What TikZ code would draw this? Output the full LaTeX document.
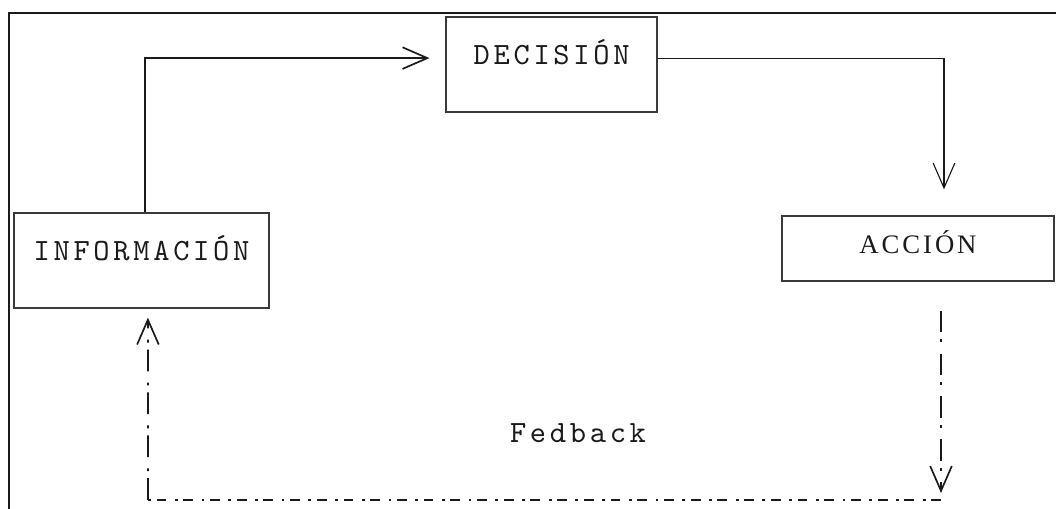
\documentclass[tikz,border=0pt]{standalone}
\usepackage{fontspec}
\setmainfont{Liberation Serif}
\newfontfamily\widserif[LetterSpace=11]{Liberation Serif}
\newfontfamily\boxmono[LetterSpace=12]{lmmono10-regular.otf}
\usetikzlibrary{arrows.meta,positioning,calc}
\definecolor{ink}{HTML}{1A1A1A}
\definecolor{boxline}{HTML}{3A3A3A}
\tikzset{
  stagebox/.style={rectangle,draw=boxline,line width=0.9pt,text=ink,inner sep=0pt,
    font=\boxmono\fontsize{22}{26}\selectfont,text height=10pt,text depth=10pt},
  flowarr/.style={-{Straight Barb[length=0.62cm,width=0.54cm]},line width=0.8pt,color=ink},
  fbline/.style={line width=1.2pt,color=ink,dash pattern=on 15.5pt off 5pt on 2pt off 8pt},
  fbhline/.style={line width=1pt,color=ink,dash pattern=on 7pt off 4pt on 2pt off 6pt},
  fblabel/.style={font=\boxmono\fontsize{22}{26}\selectfont,text=ink},
}

\begin{document}
\begin{tikzpicture}
  \useasboundingbox (0,0) rectangle (26.4,12.725);
  % page frame, only the top and left sides show
  \draw[line width=1.4pt,color=ink] (0.225,0) -- (0.225,12.4) -- (26.4,12.4);

  \node[stagebox,minimum width=5.275cm,minimum height=2.375cm] (dec) at (13.79,11.1125) {DECISIÓN};
  \node[stagebox,minimum width=6.375cm,minimum height=2.375cm] (info) at (3.5375,6.2125) {INFORMACIÓN};
  \node[stagebox,minimum width=6.8cm,minimum height=1.625cm,
    font=\widserif\fontsize{19}{23}\selectfont,text height=12pt,text depth=5pt] (acc) at (22.95,6.5125) {ACCIÓN};
  \node[fblabel] (fb) at (14.45,1.9) {Fedback};

  \draw[flowarr,line width=1.2pt,shorten >=0.4cm] ([xshift=0.09cm]info.north) |- ([yshift=0.16cm]dec.west);
  \draw[flowarr,shorten >=0.65cm] ([yshift=0.16cm]dec.east) -| ([xshift=0.65cm]acc.north);

  % feedback loop back to the start
  \coordinate (fbR) at (23.525,0.225);
  \coordinate (fbL) at (3.7,0.225);
  \draw[fbline,flowarr,line width=1.2pt,shorten <=0.725cm,shorten >=0.175cm] ([xshift=0.575cm]acc.south) -- (fbR);
  \draw[fbhline] (fbR) -- (fbL);
  \draw[fbline,flowarr,line width=1.2pt,shorten >=0.225cm] (fbL) -- ([xshift=0.16cm]info.south);
\end{tikzpicture}
\end{document}
